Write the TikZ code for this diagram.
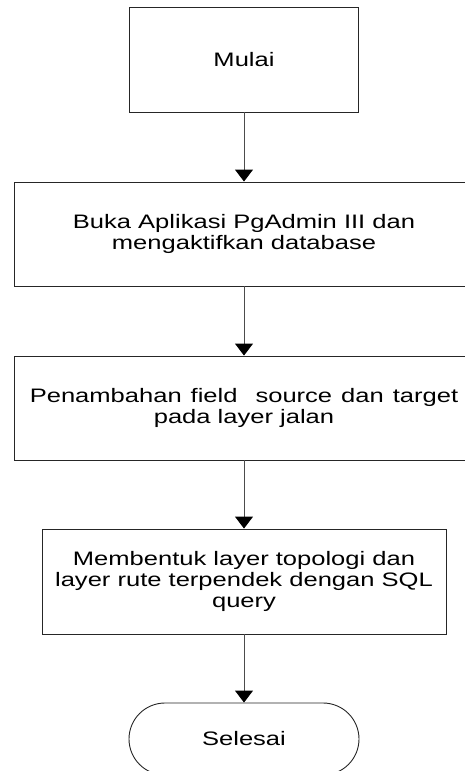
\documentclass[tikz,border=0pt]{standalone}
\usepackage{fontspec}
\setmainfont{Liberation Sans}[FakeStretch=1.31]
\usetikzlibrary{arrows.meta,shapes.misc}
\tikzset{
  flowbox/.style={draw=black!85, line width=0.9pt, rectangle, inner sep=0pt, align=center,
                  font=\fontsize{19.5}{20.7}\selectfont},
  termbox/.style={draw=black!85, line width=0.9pt, rounded rectangle, inner sep=0pt, align=center,
                  font=\fontsize{19.5}{20.7}\selectfont},
  flowarrow/.style={draw=black!70, line width=0.9pt,
                    -{Triangle[width=18pt,length=12pt,fill=black,color=black]}}
}
\begin{document}
\begin{tikzpicture}[x=1pt,y=-1pt]
  \useasboundingbox (0,0) rectangle (465,771);
  \clip (0,0) rectangle (465,771);
  \node[flowbox, minimum width=229, minimum height=105] (start) at (244,59.5) {Mulai};
  \node[flowbox, minimum width=460, minimum height=104] (open) at (244,234)
    {Buka Aplikasi PgAdmin III dan\\mengaktifkan database};
  \node[flowbox, minimum width=460, minimum height=104] (field) at (244,408)
    {\spaceskip=9pt Penambahan field\ \ source dan target\\pada layer jalan};
  \node[flowbox, minimum width=404, minimum height=105] (topo) at (244,581.5)
    {Membentuk layer topologi dan\\layer rute terpendek dengan SQL\\query};
  \node[termbox, minimum width=230, minimum height=72] (finish) at (244,739) {Selesai};
  \draw[flowarrow] (start.south) -- (open.north);
  \draw[flowarrow] (open.south) -- (field.north);
  \draw[flowarrow] (field.south) -- (topo.north);
  \draw[flowarrow] (topo.south) -- (finish.north);
\end{tikzpicture}
\end{document}
